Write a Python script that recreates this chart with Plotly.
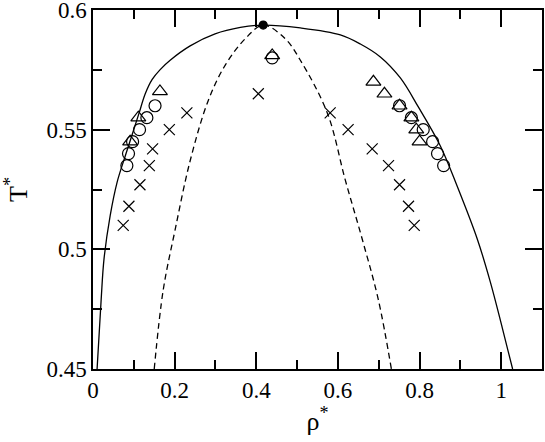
import plotly.graph_objects as go

BLACK = "black"
FONT = "Liberation Serif, Times New Roman, serif"

# coexistence curve (solid)
binodal_rho = [0.010, 0.020, 0.027, 0.042, 0.059, 0.079, 0.098, 0.113, 0.128,
               0.145, 0.164, 0.189, 0.238, 0.299, 0.361, 0.417, 0.508, 0.606,
               0.655, 0.704, 0.753, 0.797, 0.851, 0.893, 0.942, 0.974, 1.003, 1.028]
binodal_t = [0.450, 0.479, 0.496, 0.514, 0.528, 0.539, 0.549, 0.557, 0.565,
             0.571, 0.575, 0.579, 0.585, 0.590, 0.5927, 0.5937, 0.5925, 0.5896,
             0.5858, 0.5804, 0.5716, 0.5595, 0.5432, 0.526, 0.504, 0.486, 0.467, 0.450]

# spinodal (dashed)
spinodal_rho = [0.150, 0.172, 0.201, 0.238, 0.282, 0.324, 0.373, 0.417,
                0.471, 0.508, 0.574, 0.618, 0.660, 0.699, 0.731]
spinodal_t = [0.450, 0.483, 0.508, 0.537, 0.562, 0.577, 0.588, 0.5937,
              0.588, 0.579, 0.557, 0.529, 0.504, 0.479, 0.450]

critical_rho = [0.417]
critical_t = [0.5937]

circle_rho = [0.083, 0.087, 0.097, 0.114, 0.132, 0.152, 0.439,
              0.751, 0.780, 0.809, 0.832, 0.844, 0.859]
circle_t = [0.535, 0.540, 0.545, 0.550, 0.555, 0.560, 0.580,
            0.560, 0.555, 0.550, 0.545, 0.540, 0.535]

triangle_rho = [0.091, 0.111, 0.164, 0.439,
                0.687, 0.714, 0.751, 0.780, 0.792, 0.800]
triangle_t = [0.545, 0.555, 0.566, 0.581,
              0.570, 0.565, 0.560, 0.555, 0.550, 0.545]

cross_rho = [0.074, 0.088, 0.115, 0.138, 0.146, 0.187, 0.230, 0.405,
             0.581, 0.625, 0.684, 0.724, 0.751, 0.773, 0.787]
cross_t = [0.510, 0.518, 0.527, 0.535, 0.542, 0.550, 0.557, 0.565,
           0.557, 0.550, 0.542, 0.535, 0.527, 0.518, 0.510]

x_ticks = [0, 0.2, 0.4, 0.6, 0.8, 1.0]
x_minor = [0.1, 0.3, 0.5, 0.7, 0.9]
y_ticks = [0.45, 0.5, 0.55, 0.6]
y_minor = [0.475, 0.525, 0.575]


def line(x, y, dash="solid"):
    return go.Scatter(x=x, y=y, mode="lines", line=dict(color=BLACK, width=1.3, dash=dash),
                      line_shape="spline", showlegend=False)


def points(x, y, symbol, size):
    return go.Scatter(x=x, y=y, mode="markers", showlegend=False,
                      marker=dict(symbol=symbol, size=size, color=BLACK,
                                  line=dict(color=BLACK, width=1.2)))


fig = go.Figure()
fig.add_trace(line(binodal_rho, binodal_t))
fig.add_trace(line(spinodal_rho, spinodal_t, dash="6px,4px"))
fig.add_trace(points(circle_rho, circle_t, "circle-open", 12))
fig.add_trace(points(triangle_rho, triangle_t, "triangle-up-open", 13))
fig.add_trace(points(cross_rho, cross_t, "x-thin-open", 11))
fig.add_trace(points(critical_rho, critical_t, "circle", 8))

title_font = dict(family=FONT, size=26, color=BLACK)
common = dict(
    showline=True, linecolor=BLACK, linewidth=1.5, mirror="ticks",
    ticks="inside", ticklen=17, tickwidth=2, tickcolor="black",
    showgrid=False, zeroline=False, ticklabeloverflow="allow",
    tickfont=dict(family=FONT, size=23, color=BLACK),
)
fig.update_xaxes(
    common, range=[0, 1.1], tickmode="array", tickvals=x_ticks,
    minor=dict(tickmode="array", tickvals=x_minor, ticks="inside", ticklen=9,
               tickwidth=2, tickcolor="black", showgrid=False),
    title=dict(text="ρ<sup>*</sup>", font=title_font, standoff=4),
)
fig.update_yaxes(
    common, range=[0.45, 0.6], tickmode="array", tickvals=y_ticks,
    minor=dict(tickmode="array", tickvals=y_minor, ticks="inside", ticklen=9,
               tickwidth=2, tickcolor="black", showgrid=False),
    title=dict(text="T<sup>*</sup>", font=title_font, standoff=12),
)

fig.update_layout(
    template="none",
    width=545, height=442,
    margin=dict(l=93, r=3, t=10, b=73),
    plot_bgcolor="white", paper_bgcolor="white",
)
fig.write_html("out.html", config={"displayModeBar": False},
               post_script="document.body.style.margin='0';")
